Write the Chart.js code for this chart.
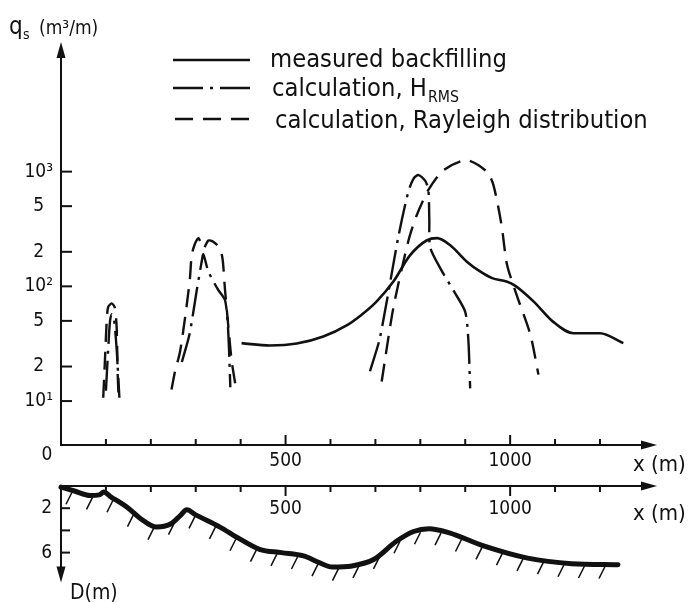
<!DOCTYPE html>
<html>
<head>
<meta charset="utf-8">
<script src="https://cdn.jsdelivr.net/npm/chart.js@4.4.1/dist/chart.umd.min.js"></script>
<style>
  html, body { margin: 0; padding: 0; background: #fff; }
  #wrap { position: relative; width: 688px; height: 602px; overflow: hidden; }
  canvas { position: absolute; left: 0; }
  #topChart { top: 0; }
  #depthChart { top: 480px; }
</style>
</head>
<body>
<div id="wrap">
  <canvas id="topChart" width="688" height="480"></canvas>
  <canvas id="depthChart" width="688" height="122"></canvas>
</div>
<script>
const INK = '#111';
const FONT = '"DejaVu Sans Condensed", "Liberation Sans Narrow", Roboto, sans-serif';

// series names (underscore = subscript)
const seriesNames = ['measured backfilling', 'calculation, H_RMS', 'calculation, Rayleigh distribution'];

// measured backfilling, x (m) and q_s (m3/m)
const measuredX = [402, 465, 525, 584, 636, 668, 703, 740, 777, 814, 837, 866, 903, 933, 960, 992, 1010, 1052, 1096, 1141, 1200, 1252];
const measuredQ = [32, 30.5, 31.7, 36.5, 45.6, 56, 74, 110, 186, 251, 263, 229, 165, 135, 118, 110, 102, 74, 49, 39, 39, 32];

// calculation with H_RMS, three bars
const hrms1X = [100, 105, 109, 113, 118, 124, 130];
const hrms1Q = [12.3, 28, 49, 57, 52, 28, 10.7];
const hrms2X = [269, 286, 302, 313, 317, 328, 350, 365, 371, 374, 377];
const hrms2Q = [21.9, 38, 91, 162, 190, 135, 93, 76, 49, 29, 13.2];
const hrms3X = [688, 710, 751, 773, 785, 796, 811, 818, 820, 822, 844, 876, 900, 907, 911];
const hrms3Q = [18.2, 35.5, 269, 661, 871, 933, 832, 692, 389, 219, 145, 89, 60, 34, 12.9];

// calculation with Rayleigh distribution
const ray1X = [94, 98, 102, 105, 113, 120, 124, 126, 128];
const ray1Q = [10.7, 23.4, 52, 66, 71, 65, 43, 18.2, 11.5];
const ray2X = [246, 254, 265, 278, 287, 291, 298, 306, 317, 328, 339, 354, 360, 365, 373, 380, 391];
const ray2Q = [12.6, 18.2, 26.9, 60, 117, 186, 234, 263, 214, 251, 245, 214, 170, 95, 43, 22.4, 12.0];
const ray3X = [714, 740, 773, 792, 818, 851, 903, 948, 963, 981, 993, 1015, 1045, 1063];
const ray3Q = [14.8, 65, 245, 417, 692, 1023, 1259, 1000, 759, 339, 155, 83, 38, 17];

// bottom profile, x (m) and depth D (m)
const profileX = [0, 30, 65, 85, 95, 110, 150, 176, 213, 243, 265, 280, 300, 354, 395, 442, 491, 540, 575, 604, 648, 697, 746, 785, 819, 863, 941, 1039, 1137, 1240];
const profileD = [0.1, 0.45, 0.85, 0.8, 0.55, 0.95, 2.0, 2.9, 3.7, 3.45, 2.7, 2.15, 2.6, 3.7, 4.7, 5.7, 6.0, 6.3, 6.9, 7.3, 7.2, 6.6, 5.0, 4.1, 3.85, 4.2, 5.4, 6.5, 7.0, 7.1];

// axes
const xTicks = [100, 200, 300, 400, 500, 600, 700, 800, 900, 1000, 1100, 1200];
const xLabelValues = [500, 1000];
const qTicks = [10, 20, 50, 100, 200, 500, 1000];
const qTickLabels = ['10¹', '2', '5', '10²', '2', '5', '10³'];
const depthTicks = [2, 4, 6];
const depthTickLabels = ['2', '', '6'];

const X_MAX = 1327;
const Q_MIN = Math.pow(10, 0.617);
const Q_MAX = Math.pow(10, 4.13);
const D_MAX = 8.7;

const toPts = (xs, ys) => xs.map((x, i) => ({ x, y: ys[i] }));
const joinSegs = (...segs) => segs.flatMap((s, i) => i ? [{ x: s[0].x - 1, y: null }, ...s] : s);
const noAxisPad = s => { s.paddingTop = 0; s.paddingBottom = 0; s.paddingLeft = 0; s.paddingRight = 0; };

function seg(ctx, x1, y1, x2, y2) {
  ctx.beginPath(); ctx.moveTo(x1, y1); ctx.lineTo(x2, y2); ctx.stroke();
}
function arrow(ctx, x, y, dir) {
  const L = 16, W = 4.5;
  ctx.beginPath();
  if (dir === 'up') { ctx.moveTo(x, y); ctx.lineTo(x - W, y + L); ctx.lineTo(x + W, y + L); }
  if (dir === 'right') { ctx.moveTo(x, y); ctx.lineTo(x - L, y - W); ctx.lineTo(x - L, y + W); }
  if (dir === 'down') { ctx.moveTo(x, y); ctx.lineTo(x - W, y - L); ctx.lineTo(x + W, y - L); }
  ctx.closePath(); ctx.fill();
}

const topDecor = {
  id: 'topDecor',
  afterDraw(chart) {
    const { ctx, chartArea: a, scales: { x, y } } = chart;
    ctx.save();
    ctx.strokeStyle = INK; ctx.fillStyle = INK; ctx.lineWidth = 2;
    seg(ctx, a.left - 1, a.bottom, a.right - 10, a.bottom);
    seg(ctx, a.left, a.bottom + 1, a.left, a.top + 10);
    arrow(ctx, a.right, a.bottom, 'right');
    arrow(ctx, a.left, a.top, 'up');
    xTicks.forEach(v => {
      const px = x.getPixelForValue(v);
      seg(ctx, px, a.bottom, px, a.bottom - (xLabelValues.includes(v) ? 10 : 6));
    });
    qTicks.forEach(v => {
      const py = y.getPixelForValue(v);
      seg(ctx, a.left, py, a.left + 11, py);
    });

    ctx.textBaseline = 'alphabetic';
    ctx.textAlign = 'center';
    ctx.font = `19px ${FONT}`;
    ctx.fillText('0', a.left - 14, a.bottom + 15);
    ctx.textAlign = 'left';
    ctx.font = `22px ${FONT}`;
    ctx.fillText('x (m)', a.right - 24, a.bottom + 26);

    // q_s (m3/m)
    ctx.font = `24px ${FONT}`;
    ctx.fillText('q', 9, 34);
    ctx.font = `14px ${FONT}`;
    ctx.fillText('s', 23, 39);
    ctx.font = `19px ${FONT}`;
    ctx.fillText('(m³/m)', 39, 34);

    // legend
    ctx.font = `100px ${FONT}`;
    const size = 100 * 373 / ctx.measureText(seriesNames[2]).width;
    const rows = [{ ly: 60, by: 67, lx: 173, tx: 270 }, { ly: 88, by: 96, lx: 173, tx: 272 }, { ly: 119, by: 128, lx: 175, tx: 275 }];
    chart.data.datasets.forEach((ds, i) => {
      const r = rows[i];
      ctx.lineWidth = 2.6;
      ctx.setLineDash(ds.borderDash || []);
      seg(ctx, r.lx, r.ly, 250, r.ly);
      ctx.setLineDash([]);
      const [main, sub] = seriesNames[i].split('_');
      ctx.font = `${size}px ${FONT}`;
      ctx.fillText(main, r.tx, r.by);
      if (sub) {
        const w = ctx.measureText(main).width;
        ctx.font = `${size * 0.62}px ${FONT}`;
        ctx.fillText(sub, r.tx + w + 1, r.by + 6);
      }
    });
    ctx.restore();
  }
};

const depthDecor = {
  id: 'depthDecor',
  afterDatasetsDraw(chart) {
    const { ctx, chartArea: a, scales: { x, y } } = chart;
    const pts = chart.getDatasetMeta(0).data;
    ctx.save();
    ctx.strokeStyle = INK; ctx.fillStyle = INK;
    // hatching under the bottom line
    ctx.lineWidth = 1.5;
    for (let hx = a.left + 11; hx < pts[pts.length - 1].x - 2; hx += 20.5) {
      let k = 1;
      while (k < pts.length - 1 && pts[k].x < hx) k++;
      const p0 = pts[k - 1], p1 = pts[k];
      const hy = p0.y + (p1.y - p0.y) * (hx - p0.x) / (p1.x - p0.x);
      seg(ctx, hx, hy + 2, hx - 6, hy + 14);
    }
    ctx.lineWidth = 2;
    seg(ctx, a.left - 1, a.top, a.right - 10, a.top);
    seg(ctx, a.left, a.top - 1, a.left, a.bottom - 10);
    arrow(ctx, a.right, a.top, 'right');
    arrow(ctx, a.left, a.bottom, 'down');
    xTicks.forEach(v => {
      const px = x.getPixelForValue(v);
      seg(ctx, px, a.top, px, a.top + (xLabelValues.includes(v) ? 10 : 6));
    });
    depthTicks.forEach(v => {
      const py = y.getPixelForValue(v);
      seg(ctx, a.left, py, a.left + 9, py);
    });
    ctx.textBaseline = 'middle';
    ctx.textAlign = 'center';
    ctx.font = `19px ${FONT}`;
    xLabelValues.forEach(v => ctx.fillText(String(v), x.getPixelForValue(v), a.top + 23));
    ctx.textAlign = 'left';
    ctx.font = `22px ${FONT}`;
    ctx.fillText('x (m)', a.right - 24, a.top + 28);
    ctx.font = `21px ${FONT}`;
    ctx.fillText('D(m)', a.left + 9, a.bottom + 11);
    ctx.restore();
  }
};

const lineBase = { borderColor: INK, pointRadius: 0, fill: false, spanGaps: false, borderCapStyle: 'butt' };

new Chart(document.getElementById('topChart'), {
  type: 'line',
  data: {
    datasets: [
      { ...lineBase, label: seriesNames[0], data: toPts(measuredX, measuredQ), borderWidth: 2.6, cubicInterpolationMode: 'monotone' },
      { ...lineBase, label: seriesNames[1], data: joinSegs(toPts(hrms1X, hrms1Q), toPts(hrms2X, hrms2Q), toPts(hrms3X, hrms3Q)), borderWidth: 2.4, borderDash: [30, 7, 3, 7], tension: 0.25 },
      { ...lineBase, label: seriesNames[2], data: joinSegs(toPts(ray1X, ray1Q), toPts(ray2X, ray2Q), toPts(ray3X, ray3Q)), borderWidth: 2.4, borderDash: [18, 10], tension: 0.25 }
    ]
  },
  options: {
    responsive: false,
    animation: false,
    layout: { padding: { top: 42, right: 31, left: 0, bottom: 0 }, autoPadding: false },
    plugins: { legend: { display: false }, tooltip: { enabled: false } },
    scales: {
      x: {
        type: 'linear', min: 0, max: X_MAX,
        afterBuildTicks: s => { s.ticks = xLabelValues.map(v => ({ value: v })); },
        afterFit: s => { s.height = 35; noAxisPad(s); },
        ticks: { font: { family: FONT, size: 19 }, color: INK, padding: 5, maxRotation: 0, autoSkip: false, callback: v => String(v) },
        grid: { display: false, drawTicks: false },
        border: { display: false }
      },
      y: {
        type: 'logarithmic', min: Q_MIN, max: Q_MAX,
        afterBuildTicks: s => { s.ticks = qTicks.map(v => ({ value: v })); },
        afterFit: s => { s.width = 61; noAxisPad(s); },
        ticks: { font: { family: FONT, size: 19 }, color: INK, padding: 8, crossAlign: 'center', autoSkip: false, callback: (v, i) => qTickLabels[i] },
        grid: { display: false, drawTicks: false },
        border: { display: false }
      }
    }
  },
  plugins: [topDecor]
});

new Chart(document.getElementById('depthChart'), {
  type: 'line',
  data: {
    datasets: [
      { ...lineBase, label: 'bottom', data: toPts(profileX, profileD), borderWidth: 5, borderCapStyle: 'round', cubicInterpolationMode: 'monotone', clip: 8 }
    ]
  },
  options: {
    responsive: false,
    animation: false,
    layout: { padding: { top: 6, right: 31, left: 0, bottom: 122 - 6 - D_MAX * 11.1 }, autoPadding: false },
    plugins: { legend: { display: false }, tooltip: { enabled: false } },
    scales: {
      x: { type: 'linear', min: 0, max: X_MAX, display: false },
      y: {
        type: 'linear', reverse: true, min: 0, max: D_MAX,
        afterBuildTicks: s => { s.ticks = depthTicks.map(v => ({ value: v })); },
        afterFit: s => { s.width = 61; noAxisPad(s); },
        ticks: { font: { family: FONT, size: 19 }, color: INK, padding: 9, autoSkip: false, callback: (v, i) => depthTickLabels[i] },
        grid: { display: false, drawTicks: false },
        border: { display: false }
      }
    }
  },
  plugins: [depthDecor]
});
</script>
</body>
</html>
